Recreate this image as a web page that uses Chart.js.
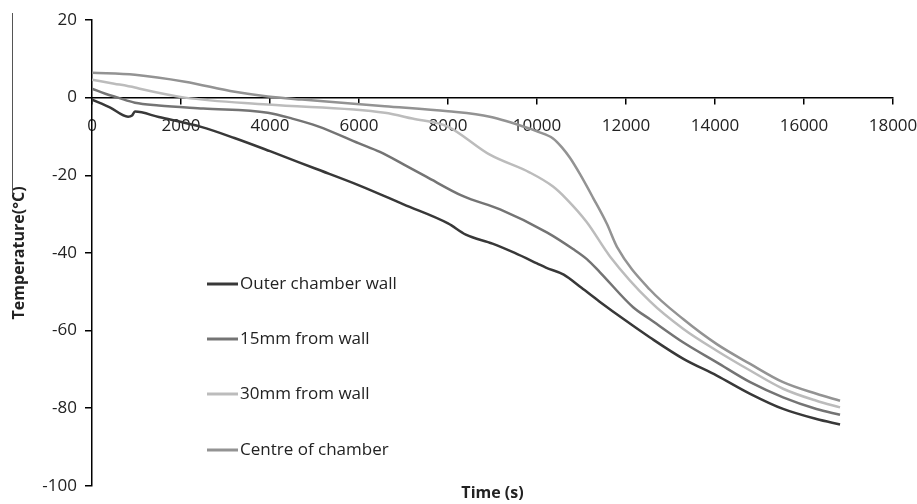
<!DOCTYPE html>
<html>
<head>
<meta charset="utf-8">
<script src="https://cdn.jsdelivr.net/npm/chart.js@4.4.1/dist/chart.umd.min.js"></script>
<style>
  html,body{margin:0;padding:0;background:#fff;}
  #wrap{width:917px;height:504px;position:relative;}
</style>
</head>
<body>
<div id="wrap"><canvas id="c"></canvas></div>
<script>
// values (time in s, temperature in °C)
const seriesNames = ['Outer chamber wall','15mm from wall','30mm from wall','Centre of chamber'];
const xTicks = [0,2000,4000,6000,8000,10000,12000,14000,16000,18000];
const yTicks = [20,0,-20,-40,-60,-80,-100];

const tOuter = [0,400,810,900,965,1500,2470,3200,4000,5000,6000,7000,8000,8400,9000,9500,10000,10200,10600,11000,11400,12000,12540,13290,14040,14790,15530,16280,16810];
const vOuter = [-0.5,-2.5,-4.9,-4.6,-3.6,-5.0,-7.6,-10.4,-13.8,-18.2,-22.6,-27.5,-32.4,-35.3,-37.6,-40,-42.7,-43.8,-45.6,-49,-52.5,-57.5,-61.8,-67.3,-71.6,-76.3,-80.2,-82.8,-84.2];

const t15 = [0,300,585,965,1500,2500,3950,4500,5080,6000,6470,7000,7500,8340,9170,10220,10810,11120,11415,12160,12540,13290,14040,14790,15530,16280,16810];
const v15 = [2.3,1.0,0,-1.3,-2.0,-2.8,-3.9,-5.4,-7.4,-11.8,-14,-17.2,-20.3,-25.4,-28.8,-34.7,-39,-41.6,-45,-54,-57.1,-63.1,-68.2,-73.3,-77.2,-80.2,-81.7];

const t30 = [0,500,965,1100,2090,3950,6580,7200,7980,8940,9840,10360,10670,11120,11640,12540,13290,14040,14790,15530,16280,16810];
const v30 = [4.6,3.6,2.6,2.2,0,-1.8,-3.9,-5.4,-7.4,-14.7,-19.3,-22.9,-26.2,-32.1,-40.9,-52.5,-59.6,-65.2,-70.3,-75.0,-78.1,-79.8];

const tCentre = [0,965,2090,3210,3950,4720,6580,8000,8940,9840,10000,10360,10560,10740,10960,11260,11570,11800,12540,13290,14040,14790,15530,16280,16810];
const vCentre = [6.4,5.9,4.1,1.5,0.3,-0.5,-2.2,-3.5,-4.9,-8.0,-8.7,-10.5,-12.8,-15.5,-19.6,-25.8,-32.5,-38.5,-49.5,-57.1,-63.5,-68.6,-73.3,-76.3,-78.1];

const colors = ['#383838','#747474','#bcbcbc','#939393'];

function pts(t, v){ return t.map((x,i)=>({x, y:v[i]})); }

const FONT = '"Open Sans", "Noto Sans", sans-serif';

// legend drawn inside the plot, entries spaced like the original
const insideLegend = {
  id:'insideLegend',
  afterDatasetsDraw(chart){
    const ctx = chart.ctx;
    const rows = [284,339,394,450];
    ctx.save();
    ctx.font = '17px ' + FONT;
    ctx.textBaseline = 'middle';
    chart.data.datasets.forEach((ds,i)=>{
      const y = rows[i];
      ctx.strokeStyle = ds.borderColor;
      ctx.lineWidth = 3;
      ctx.beginPath(); ctx.moveTo(207,y); ctx.lineTo(238,y); ctx.stroke();
      ctx.fillStyle = '#222';
      ctx.fillText(ds.label, 240, y);
    });
    // thin stray border line seen at the left edge of the source
    ctx.strokeStyle = '#555'; ctx.lineWidth = 1;
    ctx.beginPath(); ctx.moveTo(12.5,13); ctx.lineTo(12.5,195); ctx.stroke();
    ctx.restore();
  }
};

new Chart(document.getElementById('c'), {
  type:'line',
  data:{
    datasets:[
      {label:seriesNames[0], data:pts(tOuter,vOuter), borderColor:colors[0]},
      {label:seriesNames[1], data:pts(t15,v15), borderColor:colors[1]},
      {label:seriesNames[2], data:pts(t30,v30), borderColor:colors[2]},
      {label:seriesNames[3], data:pts(tCentre,vCentre), borderColor:colors[3]}
    ].map(d=>Object.assign(d,{borderWidth:2.5, pointRadius:0, tension:0.4, cubicInterpolationMode:'monotone', fill:false}))
  },
  options:{
    responsive:true,
    maintainAspectRatio:false,
    animation:false,
    layout:{padding:{top:20, right:24, bottom:0, left:0}},
    plugins:{legend:{display:false}, tooltip:{enabled:false}},
    scales:{
      x:{
        type:'linear', position:{y:0}, min:0, max:18000,
        afterBuildTicks(s){ s.ticks = xTicks.map(v=>({value:v})); },
        afterFit(s){ s.height = 0; s.paddingLeft = 0; s.paddingRight = 0; },
        grid:{drawOnChartArea:false, drawTicks:true, tickLength:6, color:'#000', lineWidth:1.5},
        border:{display:true, color:'#000', width:1.5},
        ticks:{color:'#222', font:{family:FONT, size:17}, padding:12, maxRotation:0, autoSkip:false,
               callback:v=>String(v)}
      },
      x2:{
        type:'linear', position:'bottom', display:true,
        afterFit(s){ s.height = 17; },
        grid:{display:false}, border:{display:false}, ticks:{display:false},
        title:{display:true, text:'Time (s)', color:'#222', font:{family:FONT, size:16, weight:'bold'}, padding:{top:0,bottom:0}}
      },
      y:{
        type:'linear', min:-100, max:20,
        afterBuildTicks(s){ s.ticks = yTicks.map(v=>({value:v})); },
        afterFit(s){ s.width = 92; },
        grid:{drawOnChartArea:false, drawTicks:true, tickLength:7, color:'#000', lineWidth:1.5},
        border:{display:true, color:'#000', width:1.5},
        ticks:{color:'#222', font:{family:FONT, size:17}, padding:8},
        title:{display:true, text:'Temperature(°C)', color:'#222', font:{family:FONT, size:16, weight:'bold'}, padding:{top:10,bottom:0}}
      }
    }
  },
  plugins:[insideLegend]
});
</script>
</body>
</html>
